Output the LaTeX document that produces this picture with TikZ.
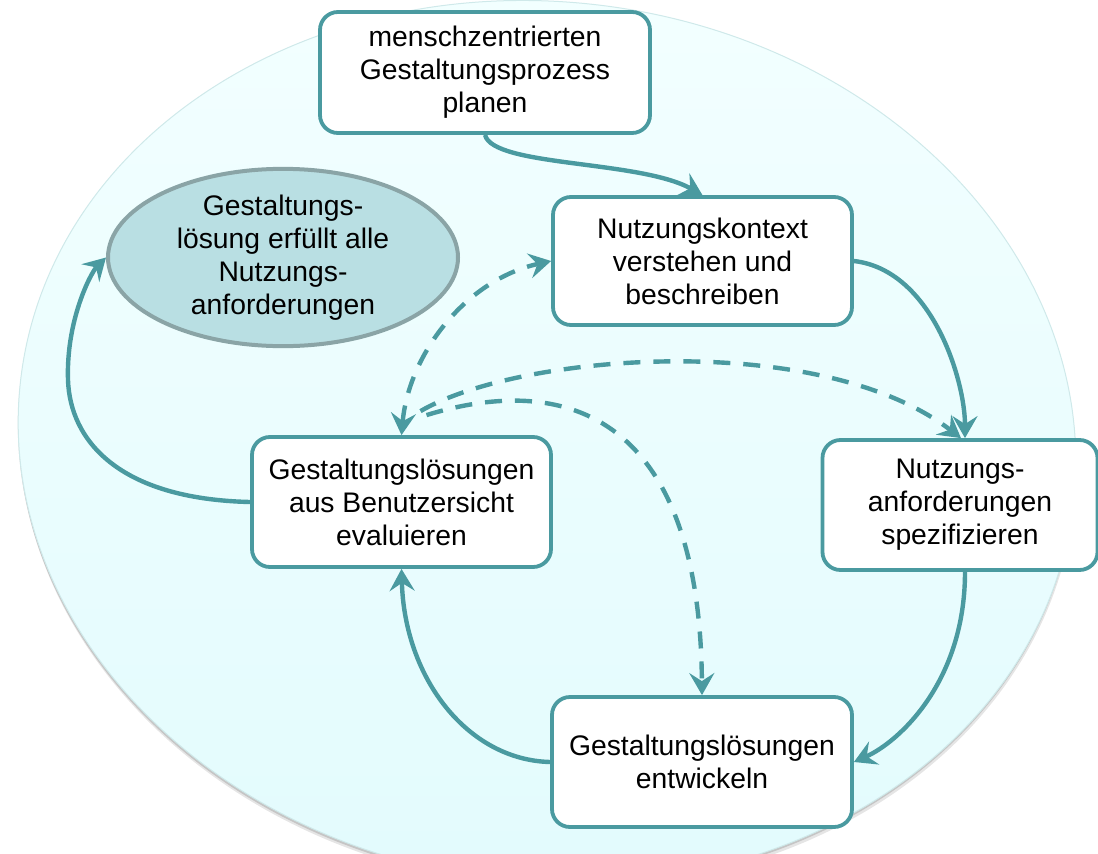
\documentclass[tikz,border=0pt]{standalone}
\usepackage{fontspec}
\setmainfont{Liberation Sans}
\usetikzlibrary{arrows.meta,shapes.geometric}
\definecolor{tealline}{HTML}{4A9AA0}
\definecolor{goalfill}{HTML}{B9DFE3}
\definecolor{goalborder}{HTML}{8AA4A6}
\definecolor{bgtop}{HTML}{F3FFFF}
\definecolor{bgbot}{HTML}{E2FBFD}
\definecolor{bgedge}{HTML}{CFE9EA}
\begin{document}
\begin{tikzpicture}[x=1pt,y=-1pt,
  txt/.style={align=center,font=\fontsize{28.3pt}{33pt}\selectfont,inner sep=0pt},
  box/.style={txt,draw=tealline,line width=3.8pt,fill=white,rounded corners=18pt},
  goal/.style={txt,ellipse,draw=goalborder,line width=4pt,fill=goalfill},
  tip/.style={Stealth[length=22pt,width=25pt,inset=8pt]},
  conn/.style={draw=tealline,line width=4.4pt,-{Stealth[length=22pt,width=25pt,inset=8pt]}},
  dconn/.style={conn,dash pattern=on 17pt off 13pt}
]
\useasboundingbox (0,0) rectangle (1098,854);
% background ellipse with soft shadow
\begin{scope}[rotate around={-7:(547,442)}]
  \fill[black,opacity=0.10] (548,447) ellipse [x radius=530, y radius=440];
  \fill[black,opacity=0.14] (547,444.5) ellipse [x radius=530, y radius=440];
  \shade[top color=bgtop,bottom color=bgbot,draw=bgedge,line width=1pt] (547,442) ellipse [x radius=530, y radius=440];
\end{scope}

% nodes
\node[box,minimum width=330,minimum height=121] (plan) at (485,72.5) {menschzentrierten\\Gestaltungsprozess\\planen};
\node[box,minimum width=299,minimum height=128] (ctx) at (702.5,261) {Nutzungskontext\\verstehen und\\beschreiben};
\node[box,minimum width=275,minimum height=130] (anf) at (960,505) {Nutzungs-\\anforderungen\\spezifizieren};
\node[box,minimum width=300,minimum height=130] (ent) at (702,762) {Gestaltungslösungen\\entwickeln};
\node[box,minimum width=299,minimum height=130] (eva) at (401.5,502) {Gestaltungslösungen\\aus Benutzersicht\\evaluieren};
\node[goal,minimum width=350,minimum height=171] (goal) at (283,257.5) {Gestaltungs-\\lösung erfüllt alle\\Nutzungs-\\anforderungen};

\coordinate (d1) at ([xshift=19pt,yshift=24pt]eva.north);
\coordinate (d2) at ([xshift=25pt,yshift=20pt]eva.north);

% solid connectors
\draw[conn] (plan.south) .. controls +(8,32) and (640,160) .. (ctx.north);
\draw[conn] (ctx.east) .. controls +(78,9) and +(0,-58) .. ([xshift=5pt]anf.north);
\draw[conn] ([xshift=5pt]anf.south) .. controls +(0,110) and +(45,-20) .. (ent.east);
\draw[conn] (ent.west) .. controls +(-82,-2) and +(3,110) .. (eva.south);
\draw[conn] (eva.west) .. controls +(-132,-3) and +(2,60) .. (68,380) .. controls +(-2,-60) and +(-15,15) .. (goal.west);

% dashed connectors
\draw[dconn,{Stealth[length=22pt,width=25pt,inset=8pt]}-{Stealth[length=22pt,width=25pt,inset=8pt]}] (eva.north) .. controls +(7,-80) and (465,280) .. (ctx.west);
\draw[dconn] (d1) .. controls +(100,-58) and (820,330) .. ([xshift=1pt]anf.north);
\draw[dconn] (d2) .. controls +(153,-47) and (700,430) .. (ent.north);
\end{tikzpicture}
\end{document}
